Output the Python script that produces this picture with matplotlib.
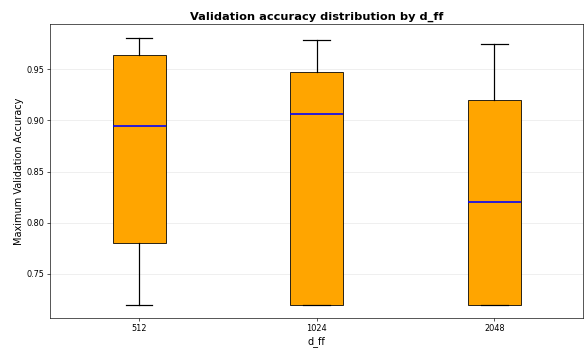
import matplotlib
matplotlib.use("Agg")
import matplotlib.pyplot as plt

# Box statistics of maximum validation accuracy per d_ff setting
categories = ["512", "1024", "2048"]
whisker_low = [0.7194, 0.7194, 0.7194]
q1 = [0.7804, 0.7194, 0.7194]
median = [0.8941, 0.9063, 0.8199]
q3 = [0.9640, 0.9470, 0.9200]
whisker_high = [0.9809, 0.9790, 0.9752]

stats = [
    {"label": c, "whislo": lo, "q1": a, "med": m, "q3": b, "whishi": hi, "fliers": []}
    for c, lo, a, m, b, hi in zip(categories, whisker_low, q1, median, q3, whisker_high)
]

fig, ax = plt.subplots(figsize=(10, 349 / 58.6), dpi=58.6)
fig.subplots_adjust(left=0.086, right=0.995, top=0.930, bottom=0.088)

ax.bxp(
    stats,
    widths=0.3,
    patch_artist=True,
    showfliers=False,
    boxprops=dict(facecolor="orange", edgecolor="black", linewidth=1.0),
    medianprops=dict(color="blue", linewidth=2.0),
    whiskerprops=dict(color="black", linewidth=1.5),
    capprops=dict(color="black", linewidth=1.5),
)

ax.set_title("Validation accuracy distribution by d_ff", fontsize=14, fontweight="bold")
ax.set_xlabel("d_ff", fontsize=12)
ax.set_ylabel("Maximum Validation Accuracy", fontsize=12)
ax.grid(axis="y", alpha=0.3)
ax.set_axisbelow(True)

fig.savefig("out.png", dpi=58.6)
